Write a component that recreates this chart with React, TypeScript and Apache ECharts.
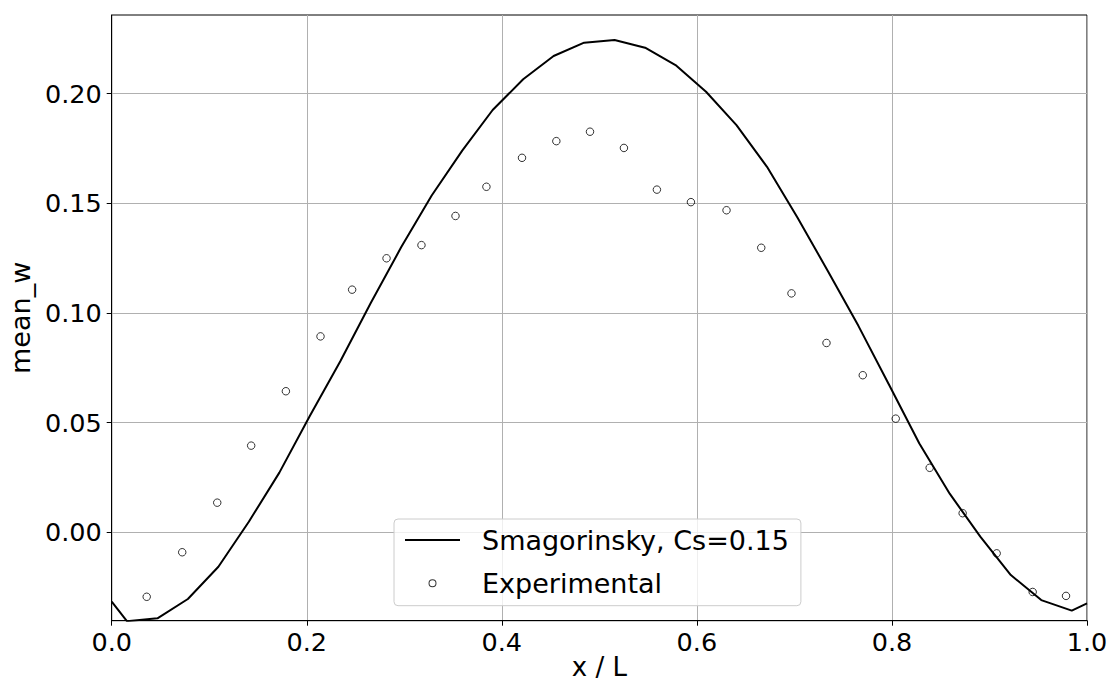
import React, { useEffect, useRef } from "react";
import * as echarts from "echarts";

const lineName = "Smagorinsky, Cs=0.15";
const scatterName = "Experimental";

const lineX = [0, 0.0156, 0.0469, 0.0781, 0.1094, 0.1406, 0.1719, 0.2031, 0.2344, 0.2656, 0.2969, 0.3281, 0.3594, 0.3906, 0.4219, 0.4531, 0.4844, 0.5156, 0.5469, 0.5781, 0.6094, 0.6406, 0.6719, 0.7031, 0.7344, 0.7656, 0.7969, 0.8281, 0.8594, 0.8906, 0.9219, 0.9531, 0.9844, 1.0];
const lineY = [-0.0316, -0.0405, -0.0392, -0.0304, -0.0157, 0.0048, 0.0272, 0.053, 0.078, 0.1045, 0.13, 0.1535, 0.174, 0.1925, 0.2065, 0.2171, 0.2232, 0.2244, 0.2209, 0.213, 0.2008, 0.1856, 0.1666, 0.1435, 0.119, 0.0941, 0.0674, 0.0405, 0.0175, -0.002, -0.0195, -0.0309, -0.0357, -0.0324];

const expX = [0.0359, 0.0723, 0.1082, 0.143, 0.1786, 0.2141, 0.2465, 0.2818, 0.3176, 0.3525, 0.3842, 0.4207, 0.4559, 0.4904, 0.5252, 0.559, 0.5939, 0.6304, 0.666, 0.697, 0.7329, 0.7701, 0.8039, 0.8387, 0.8725, 0.9074, 0.9443, 0.9785];
const expY = [-0.0294, -0.0091, 0.0135, 0.0395, 0.0643, 0.0893, 0.1106, 0.1249, 0.1309, 0.1442, 0.1575, 0.1707, 0.1783, 0.1826, 0.1752, 0.1562, 0.1505, 0.1468, 0.1297, 0.1089, 0.0863, 0.0716, 0.0518, 0.0294, 0.0087, -0.0096, -0.0272, -0.029];

const xTicks = [0, 0.2, 0.4, 0.6, 0.8, 1.0];
const yTicks = [0, 0.05, 0.1, 0.15, 0.2];
const yMin = -0.0403;
const yMax = 0.2358;

const FONT = "DejaVu Sans";

const lineIcon = "path://M0,0h0.01v0.01h-0.01Z M0,14h55v2h-55Z M54.99,29.99h0.01v0.01h-0.01Z";
const ringIcon = "path://M0,0h0.01v0.01h-0.01Z M23.5,15a4,4 0 1,0 8,0a4,4 0 1,0 -8,0Z M24.5,15a3,3 0 1,1 6,0a3,3 0 1,1 -6,0Z M54.99,29.99h0.01v0.01h-0.01Z";

export default function App() {
  const ref = useRef<HTMLDivElement>(null);
  useEffect(() => {
    if (!ref.current) return;
    const chart = echarts.init(ref.current, undefined, { renderer: "svg" });
    const tickText = { fontSize: 25.5, fontFamily: FONT, color: "#000" };
    const nameText = { fontSize: 27, fontFamily: FONT, color: "#000" };
    chart.setOption({
      animation: false,
      backgroundColor: "#fff",
      grid: {
        left: 111.7,
        top: 15,
        right: 24,
        bottom: 61.3,
        outerBoundsMode: "none",
        containLabel: false,
        show: true,
        borderColor: "#000",
        borderWidth: 1,
        backgroundColor: "transparent",
      },
      legend: {
        orient: "vertical",
        left: 394,
        top: 519,
        padding: [6, 12, 7.4, 11],
        itemWidth: 55,
        itemHeight: 30,
        itemGap: 13.3,
        selectedMode: false,
        backgroundColor: "rgba(255,255,255,0.8)",
        borderColor: "#cccccc",
        borderWidth: 1,
        borderRadius: 4,
        textStyle: {
          fontSize: 27,
          fontFamily: FONT,
          color: "#000",
          lineHeight: 30,
          padding: [0, 0, 0, 17],
        },
        data: [
          { name: lineName, icon: lineIcon, itemStyle: { color: "#000", borderWidth: 0 } },
          { name: scatterName, icon: ringIcon, itemStyle: { color: "#000", borderWidth: 0 } },
        ],
      },
      xAxis: {
        type: "value",
        min: 0,
        max: 1,
        interval: 0.2,
        name: "x / L",
        nameLocation: "middle",
        nameGap: 37,
        nameMoveOverlap: false,
        nameTextStyle: { ...nameText, fontSize: 26, lineHeight: 18, verticalAlign: "top" },
        axisLine: { show: true, onZero: false, lineStyle: { color: "#000", width: 1 } },
        axisTick: { show: true, length: 5, lineStyle: { color: "#000", width: 1 }, customValues: xTicks },
        axisLabel: { ...tickText, margin: 8, customValues: xTicks, formatter: (v: number) => v.toFixed(1) },
        splitLine: { show: true, lineStyle: { color: "#b0b0b0", width: 1 } },
      },
      yAxis: {
        type: "value",
        min: yMin,
        max: yMax,
        splitNumber: 5,
        name: "mean_w",
        nameLocation: "middle",
        nameGap: 64,
        nameTextStyle: nameText,
        axisLine: { show: true, onZero: false, lineStyle: { color: "#000", width: 1 } },
        axisTick: { show: true, length: 5, lineStyle: { color: "#000", width: 1 }, customValues: yTicks },
        axisLabel: {
          ...tickText,
          margin: 10,
          customValues: yTicks,
          formatter: (v: number) => v.toFixed(2),
        },
        splitLine: { show: true, lineStyle: { color: "#b0b0b0", width: 1 } },
      },
      series: [
        {
          name: lineName,
          type: "line",
          data: lineX.map((x, i) => [x, lineY[i]]),
          symbol: "none",
          color: "#000",
          lineStyle: { color: "#000", width: 2 },
          clip: true,
          z: 3,
        },
        {
          name: scatterName,
          type: "scatter",
          data: expX.map((x, i) => [x, expY[i]]),
          symbol: "circle",
          symbolSize: 7.5,
          itemStyle: { color: "rgba(0,0,0,0)", borderColor: "#000", borderWidth: 1 },
          z: 4,
        },
      ],
    });
    return () => chart.dispose();
  }, []);
  return (
    <div
      ref={ref}
      style={{ position: "fixed", left: 0, top: 0, width: 1111, height: 682, background: "#fff" }}
    />
  );
}
